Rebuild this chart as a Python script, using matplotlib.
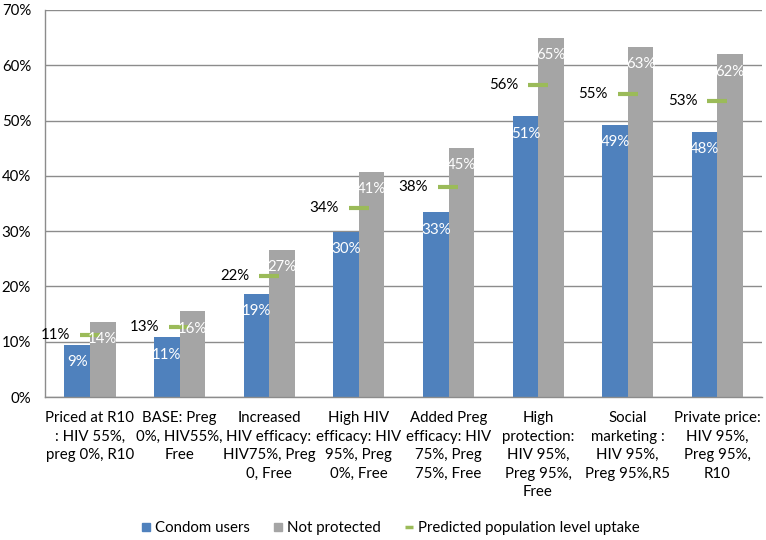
import numpy as np
import matplotlib
matplotlib.use("Agg")
import matplotlib.pyplot as plt
from matplotlib.lines import Line2D

plt.rcParams['font.family'] = ['Lato', 'DejaVu Sans']

categories = [
    "Priced at R10\n: HIV 55%,\npreg 0%, R10",
    "BASE: Preg\n0%, HIV55%,\nFree",
    "Increased\nHIV efficacy:\nHIV75%, Preg\n0, Free",
    "High HIV\nefficacy: HIV\n95%, Preg\n0%, Free",
    "Added Preg\nefficacy: HIV\n75%, Preg\n75%, Free",
    "High\nprotection:\nHIV 95%,\nPreg 95%,\nFree",
    "Social\nmarketing :\nHIV 95%,\nPreg 95%,R5",
    "Private price:\nHIV 95%,\nPreg 95%,\nR10",
]
condom_users = [9.4, 10.8, 18.7, 29.9, 33.4, 50.8, 49.2, 48.0]
not_protected = [13.6, 15.5, 26.6, 40.7, 45.1, 65.0, 63.3, 62.0]
predicted = [11.2, 12.7, 21.9, 34.2, 38.0, 56.5, 54.8, 53.6]

condom_lbl = ["9%", "11%", "19%", "30%", "33%", "51%", "49%", "48%"]
notprot_lbl = ["14%", "16%", "27%", "41%", "45%", "65%", "63%", "62%"]
pred_lbl = ["11%", "13%", "22%", "34%", "38%", "56%", "55%", "53%"]

blue = "#4F81BD"
gray = "#A5A5A5"
green = "#9BBB59"
fs = 10.8

fig = plt.figure(figsize=(7.66, 5.40), dpi=100)
ax = fig.add_axes([0.0587, 0.2648, 0.9361, 0.7167])

x = np.arange(len(categories))
w = 0.285
ax.bar(x - 0.14, condom_users, width=w, color=blue, zorder=2)
ax.bar(x + 0.145, not_protected, width=w, color=gray, zorder=2)
ax.plot(x, predicted, linestyle='none', marker='_', markersize=14.4,
        markeredgewidth=3.0, color=green, zorder=3)

for i in range(len(x)):
    ax.annotate(condom_lbl[i], (x[i] - 0.14, condom_users[i]), xytext=(0, -12.5),
                textcoords='offset points', ha='center', va='center',
                color='white', fontsize=fs, zorder=4)
    ax.annotate(notprot_lbl[i], (x[i] + 0.145, not_protected[i]), xytext=(0, -12.5),
                textcoords='offset points', ha='center', va='center',
                color='white', fontsize=fs, zorder=4)
    ax.annotate(pred_lbl[i], (x[i], predicted[i]), xytext=(-14.4, 0),
                textcoords='offset points', ha='right', va='center',
                color='black', fontsize=fs, zorder=4)

ax.set_xlim(-0.5, len(categories) - 0.5)
ax.set_ylim(0, 70)
ax.set_yticks(np.arange(0, 71, 10))
ax.set_yticklabels([f"{v}%" for v in range(0, 71, 10)], fontsize=fs)
ax.set_xticks(x)
ax.set_xticklabels(categories, fontsize=fs, linespacing=1.42, va='top')
ax.tick_params(axis='both', length=0)
ax.tick_params(axis='x', pad=10)
ax.tick_params(axis='y', pad=10)

ax.yaxis.grid(True, color='#8c8c8c', linewidth=1.0, zorder=0)
ax.set_axisbelow(True)
for s in ['top', 'right']:
    ax.spines[s].set_visible(False)
for s in ['left', 'bottom']:
    ax.spines[s].set_color('#8c8c8c')
    ax.spines[s].set_linewidth(1.0)

handles = [
    Line2D([], [], linestyle='none', marker='s', markersize=6, color=blue),
    Line2D([], [], linestyle='none', marker='s', markersize=6, color=gray),
    Line2D([], [], linestyle='none', marker='_', markersize=6, markeredgewidth=2.5, color=green),
]
fig.legend(handles, ["Condom users", "Not protected", "Predicted population level uptake"],
           loc='center', bbox_to_anchor=(0.51, 0.022), ncol=3, frameon=False,
           fontsize=fs, handlelength=0.6, handletextpad=0.3, columnspacing=1.6)

fig.savefig("out.png", dpi=100)
